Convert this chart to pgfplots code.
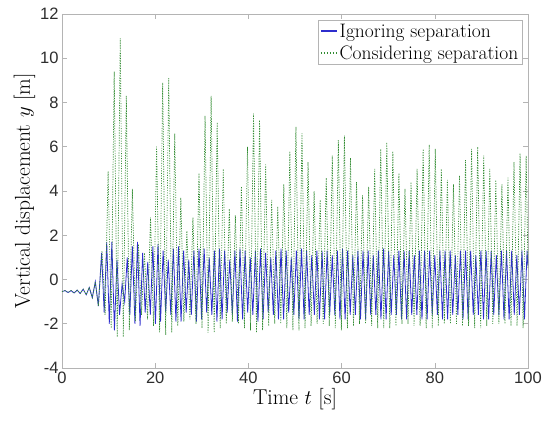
\documentclass[border=0pt]{standalone}
\usepackage{fontspec}
\usepackage{pgfplots}
\pgfplotsset{compat=1.18}
\newfontfamily\tickfont{Liberation Sans}
\definecolor{axgray}{RGB}{180,180,180}
\definecolor{tickcol}{RGB}{45,45,45}
\definecolor{blueline}{RGB}{45,45,205}
\definecolor{greenline}{RGB}{50,140,50}
\begin{document}
\begin{tikzpicture}
\begin{axis}[
  scale only axis,
  width=466pt, height=354pt,
  xmin=0, xmax=100, ymin=-4, ymax=12,
  xtick={0,20,40,60,80,100},
  ytick={-4,-2,0,2,4,6,8,10,12},
  tick align=inside,
  major tick length=5pt,
  axis line style={axgray, line width=0.6pt},
  tick style={axgray, line width=0.6pt},
  /pgf/number format/assume math mode=true,
  ticklabel style={font=\tickfont\fontsize{16.5}{19}\selectfont, text=tickcol},
  xlabel={Time $t$ [s]},
  ylabel={Vertical displacement $y$ [m]},
  label style={font=\fontsize{21.5}{24}\selectfont},
  xlabel style={yshift=2pt},
  ylabel style={yshift=-2pt},
  legend style={at={(1,1)}, anchor=north east, xshift=-6pt, yshift=-6pt,
    draw=axgray, font=\fontsize{19.5}{21}\selectfont, inner sep=1.5pt,
    row sep=3pt, legend cell align=left},
]
\addplot[color=blueline, line width=0.8pt,
  legend image code/.code={\draw[draw=blueline, line width=1.6pt] (0pt,0pt) -- (16pt,0pt);}] coordinates {
(0,-0.55)(0.65,-0.50)(1.3,-0.59)(1.95,-0.50)(2.6,-0.61)(3.25,-0.48)(3.9,-0.63)(4.55,-0.44)(5.2,-0.69)(5.85,-0.36)(6.5,-0.82)(7.15,-0.10)(7.8,-1.2)
(8.5,1.2)(9.05,-1.5)(9.6,1.7)(10.15,-2.0)(10.7,1.7)(11.25,-2.3)(11.8,0.9)(12.35,-1.6)(12.9,-0.2)(13.45,-1.0)(14.0,1.0)(14.55,-1.6)(15.1,1.5)(15.65,-2.0)(16.2,1.7)(16.75,-2.1)(17.3,1.2)(17.85,-1.5)(18.4,0.8)(18.95,-1.6)(19.5,1.5)(20.05,-2.0)(20.6,1.6)(21.15,-1.9)(21.7,1.3)(22.25,-1.5)(22.8,0.9)(23.35,-1.6)(23.9,1.4)(24.45,-1.9)(25.0,1.5)(25.55,-1.9)(26.1,1.3)(26.65,-1.5)(27.2,0.9)(27.75,-1.6)(28.3,1.3)(28.85,-1.9)(29.4,1.4)(29.95,-1.8)(30.5,1.4)(31.05,-1.5)(31.6,1.0)(32.15,-1.6)(32.7,1.3)(33.25,-1.9)(33.8,1.4)(34.35,-1.8)(34.9,1.3)(35.45,-1.5)(36.0,0.9)(36.55,-1.6)(37.1,1.3)(37.65,-1.9)(38.2,1.4)(38.75,-1.8)(39.3,1.3)(39.85,-1.5)(40.4,1.0)(40.95,-1.6)(41.5,1.3)(42.05,-1.9)(42.6,1.4)(43.15,-1.8)(43.7,1.2)(44.25,-1.5)(44.8,1.0)(45.35,-1.6)(45.9,1.3)(46.45,-1.8)(47.0,1.4)(47.55,-1.8)(48.1,1.3)(48.65,-1.5)(49.2,1.0)(49.75,-1.6)(50.3,1.3)(50.85,-1.8)(51.4,1.4)(51.95,-1.8)(52.5,1.3)(53.05,-1.6)(53.6,1.1)(54.15,-1.6)(54.7,1.3)(55.25,-1.8)(55.8,1.3)(56.35,-1.8)(56.9,1.3)(57.45,-1.6)(58.0,1.1)(58.55,-1.6)(59.1,1.3)(59.65,-1.8)(60.2,1.4)(60.75,-1.8)(61.3,1.3)(61.85,-1.6)(62.4,1.1)(62.95,-1.6)(63.5,1.3)(64.05,-1.8)(64.6,1.3)(65.15,-1.8)(65.7,1.3)(66.25,-1.6)(66.8,1.1)(67.35,-1.6)(67.9,1.3)(68.45,-1.8)(69.0,1.4)(69.55,-1.8)(70.1,1.3)(70.65,-1.6)(71.2,1.1)(71.75,-1.6)(72.3,1.3)(72.85,-1.8)(73.4,1.3)(73.95,-1.8)(74.5,1.3)(75.05,-1.6)(75.6,1.1)(76.15,-1.6)(76.7,1.3)(77.25,-1.8)(77.8,1.3)(78.35,-1.8)(78.9,1.3)(79.45,-1.6)(80.0,1.1)(80.55,-1.6)(81.1,1.3)(81.65,-1.8)(82.2,1.3)(82.75,-1.8)(83.3,1.3)(83.85,-1.6)(84.4,1.1)(84.95,-1.6)(85.5,1.3)(86.05,-1.8)(86.6,1.3)(87.15,-1.8)(87.7,1.3)(88.25,-1.6)(88.8,1.1)(89.35,-1.6)(89.9,1.3)(90.45,-1.8)(91.0,1.3)(91.55,-1.8)(92.1,1.3)(92.65,-1.6)(93.2,1.1)(93.75,-1.6)(94.3,1.3)(94.85,-1.8)(95.4,1.3)(95.95,-1.8)(96.5,1.3)(97.05,-1.6)(97.6,1.1)(98.15,-1.6)(98.7,1.3)(99.25,-1.8)(99.8,1.3)(100,0.6)
};
\addlegendentry{Ignoring separation}
\addplot[color=greenline, line width=0.7pt, dash pattern=on 1.2pt off 1.3pt,
  legend image code/.code={\draw[draw=greenline, line width=1.2pt, dash pattern=on 1.5pt off 1.5pt] (0pt,0pt) -- (16pt,0pt);}] coordinates {
(0,-0.55)(0.65,-0.50)(1.3,-0.59)(1.95,-0.50)(2.6,-0.61)(3.25,-0.48)(3.9,-0.63)(4.55,-0.44)(5.2,-0.69)(5.85,-0.36)(6.5,-0.82)(7.15,-0.10)(7.8,-1.2)
(8.6,1.3)(9.25,-1.6)(9.9,4.9)(10.55,-2.2)(11.2,9.4)(11.85,-2.6)(12.5,10.9)(13.15,-2.6)(13.8,8.3)(14.45,-2.3)(15.1,4.1)(15.75,-1.9)(16.4,1.6)(17.05,-1.6)(17.7,1.2)(18.35,-1.8)(19.0,2.8)(19.65,-2.1)(20.3,6.0)(20.95,-2.4)(21.6,8.9)(22.25,-2.5)(22.9,9.1)(23.55,-2.4)(24.2,6.6)(24.85,-2.1)(25.5,3.7)(26.15,-1.9)(26.8,2.2)(27.45,-1.8)(28.1,2.8)(28.75,-2.0)(29.4,4.8)(30.05,-2.2)(30.7,7.4)(31.35,-2.4)(32.0,8.3)(32.65,-2.4)(33.3,7.1)(33.95,-2.2)(34.6,5.0)(35.25,-2.0)(35.9,3.2)(36.55,-1.9)(37.2,2.9)(37.85,-2.0)(38.5,4.2)(39.15,-2.2)(39.8,6.0)(40.45,-2.3)(41.1,7.5)(41.75,-2.4)(42.4,7.2)(43.05,-2.3)(43.7,5.2)(44.35,-2.1)(45.0,3.6)(45.65,-2.0)(46.3,3.3)(46.95,-2.0)(47.6,4.3)(48.25,-2.2)(48.9,5.8)(49.55,-2.3)(50.2,6.9)(50.85,-2.3)(51.5,6.6)(52.15,-2.2)(52.8,5.3)(53.45,-2.1)(54.1,4.0)(54.75,-2.0)(55.4,3.6)(56.05,-2.0)(56.7,4.6)(57.35,-2.1)(58.0,5.6)(58.65,-2.2)(59.3,6.3)(59.95,-2.3)(60.6,6.5)(61.25,-2.2)(61.9,5.5)(62.55,-2.1)(63.2,4.4)(63.85,-2.0)(64.5,3.8)(65.15,-2.0)(65.8,4.2)(66.45,-2.1)(67.1,5.0)(67.75,-2.2)(68.4,5.9)(69.05,-2.2)(69.7,6.2)(70.35,-2.2)(71.0,5.8)(71.65,-2.1)(72.3,4.8)(72.95,-2.0)(73.6,4.1)(74.25,-2.0)(74.9,4.4)(75.55,-2.1)(76.2,5.0)(76.85,-2.1)(77.5,5.9)(78.15,-2.2)(78.8,6.1)(79.45,-2.2)(80.1,5.9)(80.75,-2.1)(81.4,5.0)(82.05,-2.0)(82.7,4.5)(83.35,-2.0)(84.0,4.3)(84.65,-2.0)(85.3,4.7)(85.95,-2.1)(86.6,5.4)(87.25,-2.1)(87.9,5.9)(88.55,-2.2)(89.2,6.0)(89.85,-2.2)(90.5,5.6)(91.15,-2.1)(91.8,5.0)(92.45,-2.0)(93.1,4.5)(93.75,-2.0)(94.4,4.3)(95.05,-2.0)(95.7,4.6)(96.35,-2.1)(97.0,5.3)(97.65,-2.1)(98.3,5.7)(98.95,-2.2)(99.6,5.6)(100,0.5)
};
\addlegendentry{Considering separation}
\end{axis}
\pgfresetboundingbox
\path[use as bounding box] (-62pt,-57pt) rectangle (482pt,368pt);
\end{tikzpicture}
\end{document}
